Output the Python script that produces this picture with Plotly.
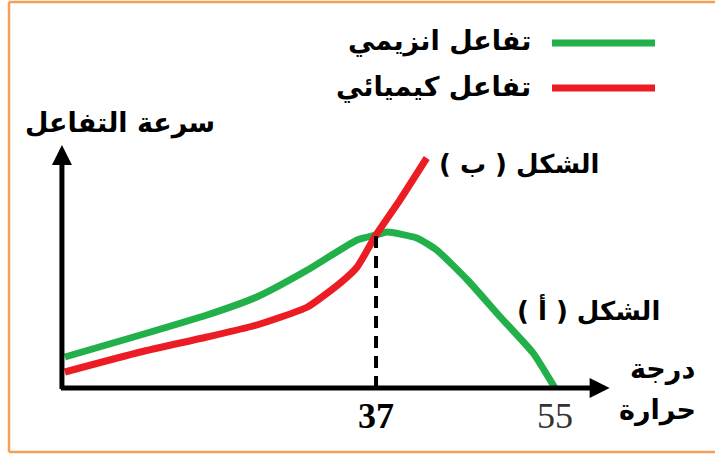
import plotly.graph_objects as go

# Reaction rate versus temperature: enzymatic vs chemical reaction
temp_enzyme = [5.7, 13.3, 20.0, 25.0, 30.1, 35.1, 37.0, 38.1, 41.1, 43.1, 46.2, 49.5, 52.8, 55.0]
rate_enzyme = [3.1, 5.3, 7.3, 9.1, 11.8, 14.8, 15.3, 15.6, 15.0, 13.8, 10.8, 7.1, 3.5, 0.0]

temp_chem = [5.7, 13.3, 20.0, 25.0, 30.1, 33.4, 35.1, 37.0, 39.4, 42.1]
rate_chem = [1.6, 3.6, 5.1, 6.3, 8.1, 10.5, 12.1, 15.3, 18.8, 23.0]

optimum_temp = 37
optimum_rate = 15.3
tick_values = [37, 55]

legend_enzyme = "تفاعل انزيمي"
legend_chem = "تفاعل كيميائي"
y_title = "سرعة التفاعل"
x_title_lines = ["درجة", "حرارة"]
label_a = "\u200fالشكل ( أ )\u200f"
label_b = "\u200fالشكل ( ب )\u200f"

GREEN = "#22b04a"
RED = "#ec1c24"
FRAME = "#f5a05a"
W, H = 715, 457
AR_FONT = "DejaVu Sans"

X_RANGE = [-0.83, 71.1]
Y_RANGE = [-6.9, 38.8]
X_ORIGIN = 5.4


def px(x):
    return x / W


def py(y):
    return 1 - y / H


fig = go.Figure()

fig.add_trace(go.Scatter(x=temp_enzyme, y=rate_enzyme, mode="lines",
                         line=dict(color=GREEN, width=7, shape="spline", smoothing=0.5),
                         hoverinfo="skip"))
fig.add_trace(go.Scatter(x=temp_chem, y=rate_chem, mode="lines",
                         line=dict(color=RED, width=7, shape="spline", smoothing=0.5),
                         hoverinfo="skip"))
fig.add_trace(go.Scatter(x=[optimum_temp, optimum_temp], y=[0, optimum_rate], mode="lines",
                         line=dict(color="black", width=4, dash="12px,8px"), hoverinfo="skip"))

# Axes drawn as arrows from the origin corner
annotations = [
    dict(x=X_ORIGIN, y=24.3, ax=X_ORIGIN, ay=-0.25, xref="x", yref="y", axref="x", ayref="y",
         showarrow=True, arrowhead=2, arrowsize=0.8, arrowwidth=5, arrowcolor="black", text=""),
    dict(x=60.5, y=0, ax=X_ORIGIN - 0.25, ay=0, xref="x", yref="y", axref="x", ayref="y",
         showarrow=True, arrowhead=2, arrowsize=0.8, arrowwidth=5, arrowcolor="black", text=""),
]


def label(text, x, y, font, xanchor="center", xref="paper"):
    return dict(x=x, y=py(y), xref=xref, yref="paper", text=text, showarrow=False,
                xanchor=xanchor, yanchor="middle", font=font)


# Tick labels under the temperature axis
annotations.append(label(str(tick_values[0]), tick_values[0], 416,
                         dict(family="Liberation Serif", size=36, color="black", weight="bold"), xref="x"))
annotations.append(label(str(tick_values[1]), tick_values[1], 416,
                         dict(family="Liberation Serif", size=36, color="#333333"), xref="x"))

ar = dict(family=AR_FONT, size=27, color="black", weight="bold")
ar_small = dict(family=AR_FONT, size=26, color="black", weight="bold")
annotations += [
    label(y_title, px(217), 123, ar, "right"),
    label(x_title_lines[0], px(697), 369, ar, "right"),
    label(x_title_lines[1], px(698), 410, ar, "right"),
    label(legend_enzyme, px(533), 41, ar, "right"),
    label(legend_chem, px(533), 87, ar, "right"),
    label(label_b, px(437), 164, ar_small, "left"),
    label(label_a, px(515), 310, ar_small, "left"),
]

shapes = [
    # legend samples
    dict(type="line", xref="paper", yref="paper", x0=px(552), x1=px(655), y0=py(43), y1=py(43),
         line=dict(color=GREEN, width=7)),
    dict(type="line", xref="paper", yref="paper", x0=px(552), x1=px(655), y0=py(88), y1=py(88),
         line=dict(color=RED, width=7)),
    # frame
    dict(type="line", xref="paper", yref="paper", x0=px(9), x1=px(715), y0=py(2), y1=py(2),
         line=dict(color=FRAME, width=2.5)),
    dict(type="line", xref="paper", yref="paper", x0=px(9), x1=px(9), y0=py(2), y1=py(452),
         line=dict(color=FRAME, width=2.5)),
    dict(type="line", xref="paper", yref="paper", x0=px(9), x1=px(715), y0=py(452), y1=py(452),
         line=dict(color=FRAME, width=2.5)),
]

fig.update_layout(
    width=W, height=H, margin=dict(l=0, r=0, t=0, b=0),
    paper_bgcolor="white", plot_bgcolor="white", showlegend=False,
    xaxis=dict(range=X_RANGE, visible=False, fixedrange=True),
    yaxis=dict(range=Y_RANGE, visible=False, fixedrange=True),
    annotations=annotations, shapes=shapes,
)

fig.write_html("out.html")
